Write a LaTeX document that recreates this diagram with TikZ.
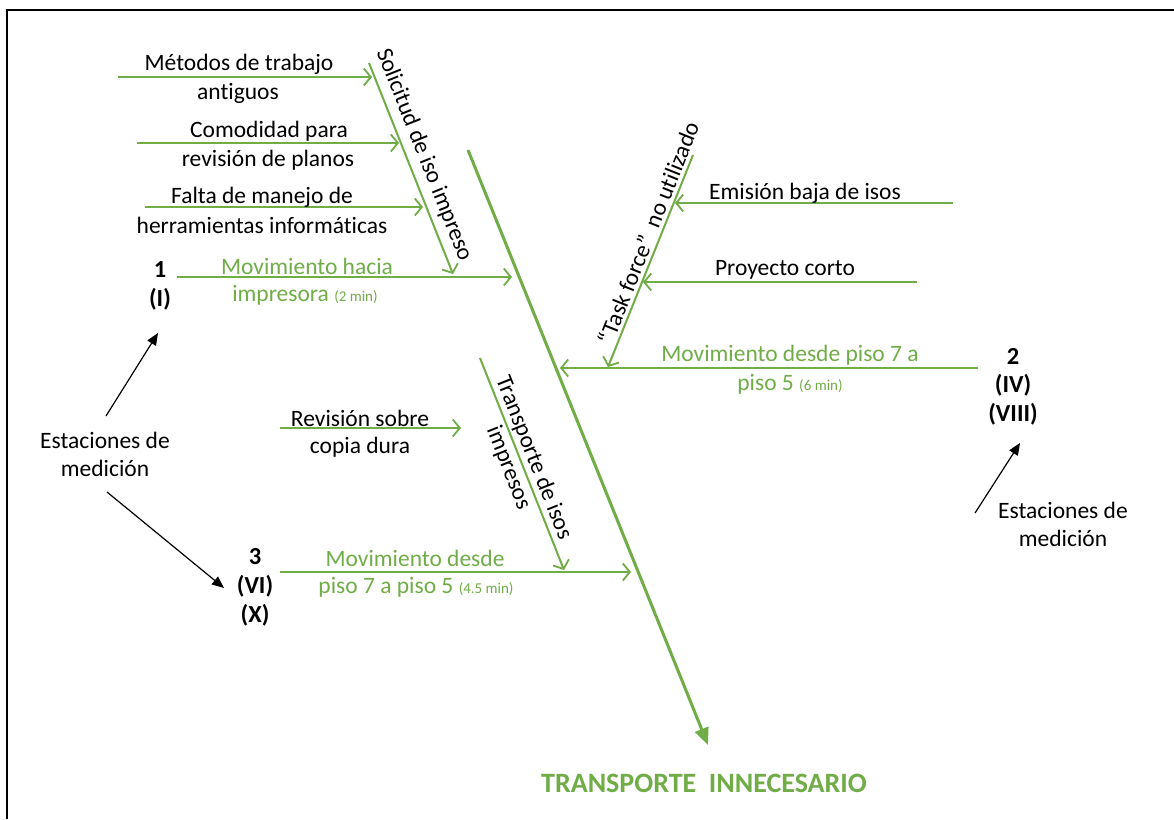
\documentclass[tikz,border=0pt]{standalone}
\usepackage{fontspec}
\setmainfont{Carlito}[Ligatures=NoCommon]
\usetikzlibrary{arrows.meta}
\definecolor{leaf}{HTML}{70AD47}
\tikzset{
  cause/.style={font=\fontsize{23.5}{27}\selectfont, inner sep=0pt, text=black},
  gcause/.style={cause, text=leaf},
  station/.style={font=\bfseries\fontsize{24.5}{27}\selectfont, inner sep=0pt},
  bone/.style={draw=leaf, line width=2pt, -{Straight Barb[length=7pt,width=17pt,line width=1.8pt]}},
  spine/.style={draw=leaf, line width=3pt, -{Triangle[length=17pt,width=14pt]}},
  pointer/.style={draw=black, line width=1.2pt, -{Triangle[length=12pt,width=10pt]}},
}
\newcommand{\mins}[1]{{\fontsize{15}{18}\selectfont #1}}
\begin{document}
\begin{tikzpicture}[x=1pt,y=-1pt]
\useasboundingbox (0,0) rectangle (1174,819);
\fill[white] (0,0) rectangle (1174,819);
% page frame (left and top edges)
\draw[line width=2.4pt] (7,819) -- (7,10) -- (1174,10);

% main spine and effect
\coordinate (sp0) at (468,150);
\coordinate (sp1) at (708,745);
\draw[spine] (sp0) -- (sp1);
\node[font=\bfseries\fontsize{28}{32}\selectfont, text=leaf, inner sep=0pt] (effect) at (704,783) {TRANSPORTE\ \ INNECESARIO};

% branch: Solicitud de iso impreso
\coordinate (sa) at (369,63);
\coordinate (sb) at (453,274);
\draw[bone] (sa) -- (sb);
\node[cause, rotate=-68.3] (slab) at (424,155) {Solicitud de iso impreso};

\coordinate (m0) at (118,77);  \coordinate (m1) at (372,77);
\draw[bone] (m0) -- (m1);
\node[cause] (mt1) at (239,64) {Métodos de trabajo};
\node[cause] (mt2) at (238,93) {antiguos};

\coordinate (c0) at (137,143); \coordinate (c1) at (399,143);
\draw[bone] (c0) -- (c1);
\node[cause] (ct1) at (269,131) {Comodidad para};
\node[cause] (ct2) at (268,160) {revisión de planos};

\coordinate (f0) at (145,207); \coordinate (f1) at (423,207);
\draw[bone] (f0) -- (f1);
\node[cause] (ft1) at (262,197) {Falta de manejo de};
\node[cause] (ft2) at (262,225) {herramientas informáticas};

\coordinate (h0) at (177,277); \coordinate (h1) at (512,277);
\draw[bone] (h0) -- (h1);
\node[gcause] (ht1) at (307,266) {Movimiento hacia};
\node[gcause] (ht2) at (305,295) {impresora \mins{(2 min)}};

% branch: Task force no utilizado
\coordinate (ta) at (693,155);
\coordinate (tb) at (608,367);
\draw[bone] (ta) -- (tb);
\node[cause, rotate=68.2] (tlab) at (648,233) {“Task force”\ \ no utilizado};

\coordinate (e0) at (953,203); \coordinate (e1) at (675,203);
\draw[bone] (e0) -- (e1);
\node[cause] (et) at (805,193) {Emisión baja de isos};

\coordinate (p0) at (917,282); \coordinate (p1) at (643,282);
\draw[bone] (p0) -- (p1);
\node[cause] (pt) at (785,270) {Proyecto corto};

\coordinate (d0) at (978,368); \coordinate (d1) at (560,368);
\draw[bone] (d0) -- (d1);
\node[gcause] (dt1) at (790,355) {Movimiento desde piso 7 a};
\node[gcause] (dt2) at (790,384) {piso 5 \mins{(6 min)}};

% branch: Transporte de isos impresos
\coordinate (ra) at (480,358);
\coordinate (rb) at (564,570);
\draw[bone] (ra) -- (rb);
\node[cause, rotate=-68.4, align=center] (rlab) at (521,463) {Transporte de isos\\impresos};

\coordinate (v0) at (280,428); \coordinate (v1) at (461,428);
\draw[bone] (v0) -- (v1);
\node[cause] (vt1) at (360,418) {Revisión sobre};
\node[cause] (vt2) at (360,447) {copia dura};

\coordinate (w0) at (280,572); \coordinate (w1) at (631,572);
\draw[bone] (w0) -- (w1);
\node[gcause] (wt1) at (415,558) {Movimiento desde};
\node[gcause] (wt2) at (416,587) {piso 7 a piso 5 \mins{(4.5 min)}};

% measuring stations
\node[station] (n1a) at (160,270) {1};
\node[station] (n1b) at (160,299) {(I)};
\node[station] (n2a) at (1013,356) {2};
\node[station] (n2b) at (1013,385) {(IV)};
\node[station] (n2c) at (1013,414) {(VIII)};
\node[station] (n3a) at (255,557) {3};
\node[station] (n3b) at (255,586) {(VI)};
\node[station] (n3c) at (255,615) {(X)};

\node[cause] (lm1) at (105,440) {Estaciones de};
\node[cause] (lm2) at (105,468) {medición};
\node[cause] (rm1) at (1063,510) {Estaciones de};
\node[cause] (rm2) at (1063,538) {medición};

\coordinate (q0) at (106,416); \coordinate (q1) at (158,333);
\draw[pointer] (q0) -- (q1);
\coordinate (q2) at (107,492); \coordinate (q3) at (224,588);
\draw[pointer] (q2) -- (q3);
\coordinate (q4) at (975,513); \coordinate (q5) at (1020,443);
\draw[pointer] (q4) -- (q5);
\end{tikzpicture}
\end{document}
